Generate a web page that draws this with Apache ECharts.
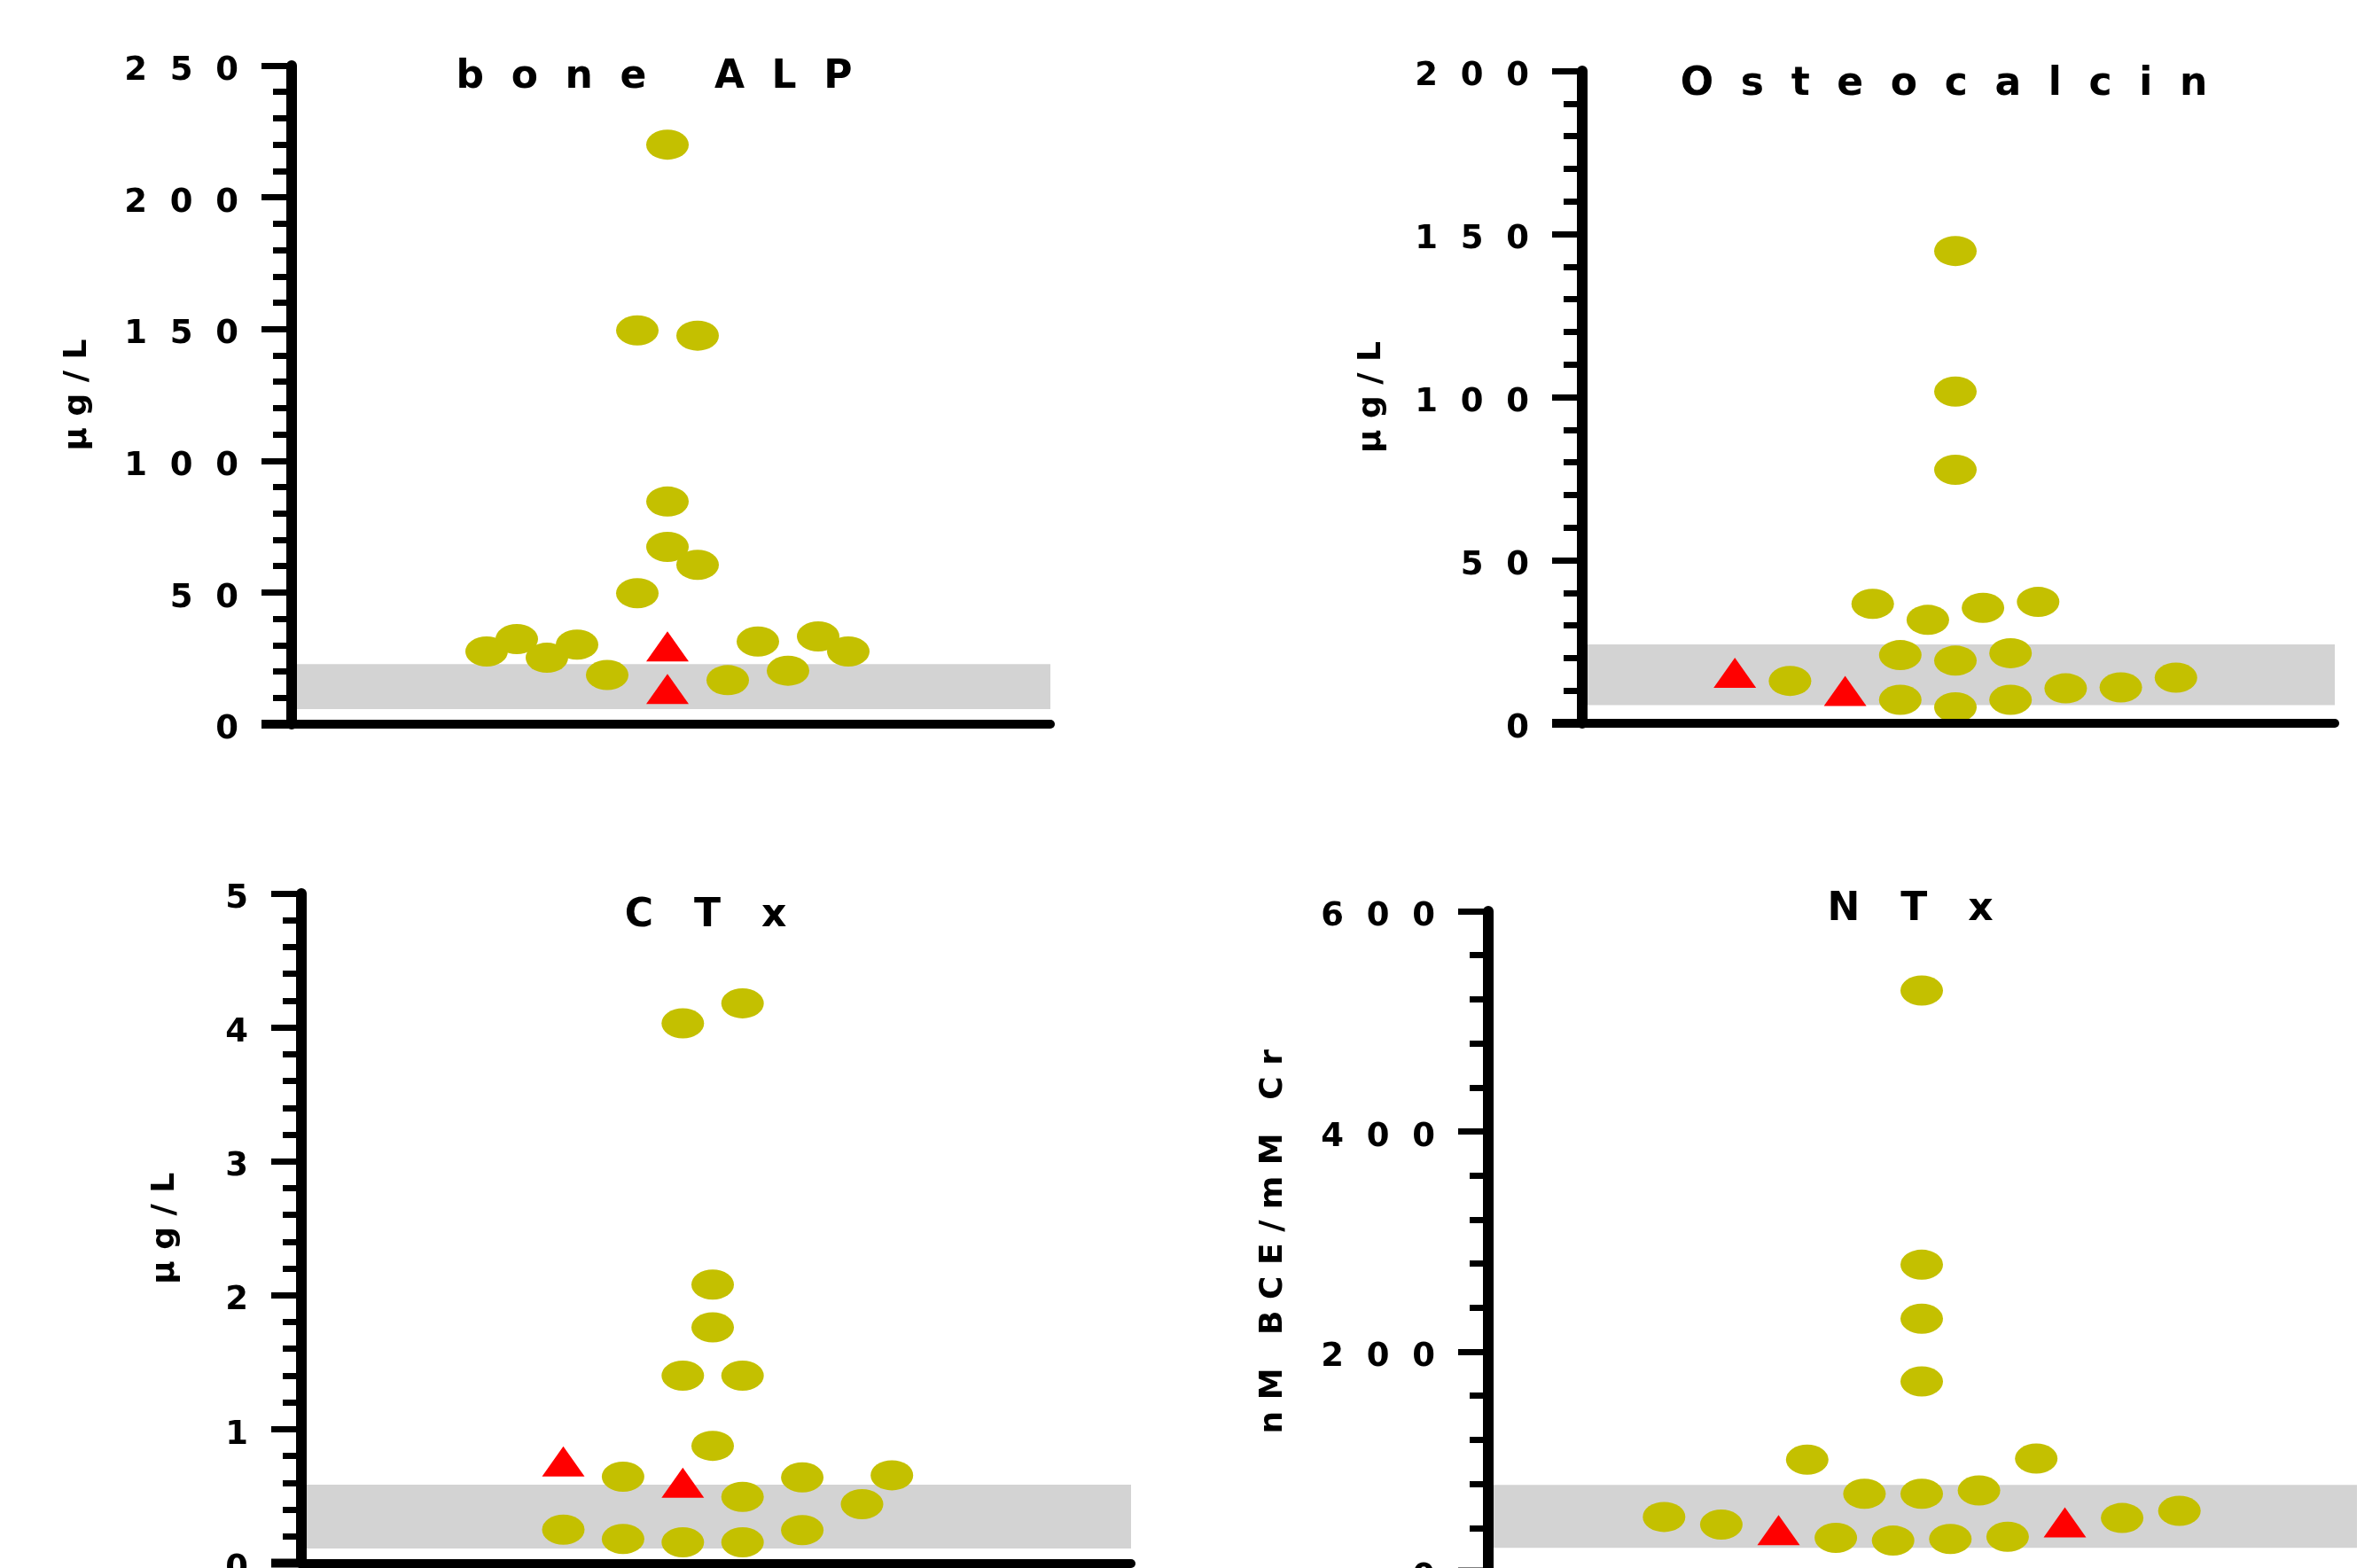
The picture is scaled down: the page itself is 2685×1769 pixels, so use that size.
<!DOCTYPE html>
<html>
<head>
<meta charset="utf-8">
<script src="https://cdn.jsdelivr.net/npm/echarts@6/dist/echarts.min.js"></script>
<style>
  html, body { margin: 0; padding: 0; background: #fff; }
  #main { width: 2685px; height: 1769px; }
</style>
</head>
<body>
<div id="main"></div>
<script>
// panel texts and y scales
const titles = ['bone ALP', 'Osteocalcin', 'CTx', 'NTx'];
const yNames = ['µg/L', 'µg/L', 'µg/L', 'nM BCE/mM Cr'];
const yMax = [250, 200, 5, 600];
const yStep = [50, 50, 1, 200];

// grey reference range
const refLow = [5.7, 5.6, 0.11, 22];
const refHigh = [22.8, 24.2, 0.585, 79];

// dot columns (swarm offset) and values, circles and triangles
const alpDotCol = [0, -1, 1, 0, 0, 1, -1, -6, -5, -4, -3, -2, 2, 3, 4, 5, 6];
const alpDotVal = [220, 149.5, 147.5, 84.5, 67.3, 60.5, 49.7, 27.6, 32.3, 25.2, 30.2, 18.7, 16.7, 31.4, 20.3, 33.3, 27.6];
const alpTriCol = [0, 0];
const alpTriVal = [29.5, 13.4];

const ocDotCol = [0, 0, 0, -3, -1, 1, 3, -2, 0, 2, -6, -2, 0, 2, 4, 6, 8];
const ocDotVal = [144.8, 101.7, 77.7, 36.6, 31.7, 35.4, 37.2, 20.9, 19.2, 21.5, 13, 7.2, 4.9, 7.2, 10.7, 11, 14];
const ocTriCol = [-8, -4];
const ocTriVal = [15.5, 9.9];

const ctxDotCol = [-1, 1, 0, 0, -1, 1, 0, -3, 1, 3, 5, 6, -5, -3, -1, 1, 3];
const ctxDotVal = [4.03, 4.18, 2.08, 1.76, 1.4, 1.4, 0.876, 0.645, 0.495, 0.64, 0.44, 0.656, 0.25, 0.18, 0.155, 0.155, 0.247];
const ctxTriCol = [-5, -1];
const ctxTriVal = [0.76, 0.6];

const ntxDotCol = [0, 0, 0, 0, -4, 4, -2, 0, 2, -9, -7, -3, -1, 1, 3, 7, 9];
const ntxDotVal = [528, 279, 230, 173, 102, 103, 71, 71, 74, 50, 43, 31, 28.5, 30, 32, 49, 55.5];
const ntxTriCol = [-5, 5];
const ntxTriVal = [38, 45];

const dotCols = [alpDotCol, ocDotCol, ctxDotCol, ntxDotCol];
const dotVals = [alpDotVal, ocDotVal, ctxDotVal, ntxDotVal];
const triCols = [alpTriCol, ocTriCol, ctxTriCol, ntxTriCol];
const triVals = [alpTriVal, ocTriVal, ctxTriVal, ntxTriVal];

// layout in px: plot box, swarm center, column width, title spot
const layout = [
  { left: 329, right: 1185, top: 74, bottom: 817, center: 753, step: 34, nameGap: 223, tx: 738, ty: 88, tgap: '  ' },
  { left: 1785, right: 2634, top: 80, bottom: 816, center: 2206, step: 31.1, nameGap: 219, tx: 2193, ty: 96, tgap: '  ' },
  { left: 340, right: 1276, top: 1008, bottom: 1763.5, center: 804, step: 33.7, nameGap: 135, tx: 796, ty: 1034, tgap: '   ' },
  { left: 1679, right: 2659, top: 1028, bottom: 1773.5, center: 2168, step: 32.3, nameGap: 224, tx: 2155, ty: 1027, tgap: '   ' }
];

const FONT = 'DejaVu Sans';
const spaced = (s, gap) => Array.from(String(s)).join(gap);

const grid = [], xAxis = [], yAxis = [], series = [], title = [], graphic = [];

layout.forEach((L, i) => {
  grid.push({
    left: L.left, top: L.top, width: L.right - L.left, height: L.bottom - L.top,
    outerBoundsMode: 'none', containLabel: false
  });

  xAxis.push({
    gridIndex: i, type: 'value',
    min: (L.left - L.center) / L.step,
    max: (L.right - L.center) / L.step,
    axisLine: { onZero: false, lineStyle: { color: '#000', width: 10 } },
    axisTick: { show: false }, axisLabel: { show: false }, splitLine: { show: false },
    z: 5
  });

  yAxis.push({
    gridIndex: i, type: 'value', min: 0, max: yMax[i], interval: yStep[i],
    name: spaced(yNames[i], ' '),
    nameLocation: 'middle', nameGap: L.nameGap,
    nameTextStyle: { fontFamily: FONT, fontWeight: 'bold', fontSize: 36, color: '#000' },
    axisLine: { show: true, onZero: false, lineStyle: { color: '#000', width: 12 } },
    axisTick: { show: true, length: 34, lineStyle: { color: '#000', width: 7 } },
    minorTick: { show: true, splitNumber: 5, length: 21, lineStyle: { color: '#000', width: 7 } },
    axisLabel: {
      margin: 60, fontFamily: FONT, fontWeight: 'bold', fontSize: 37, color: '#000',
      // small line box hung from the tick: digits sit a little below it
      verticalAlign: 'top', lineHeight: 13,
      formatter: v => spaced(v, '  ')
    },
    splitLine: { show: false }, minorSplitLine: { show: false },
    z: 5
  });

  title.push({
    text: spaced(titles[i], L.tgap),
    left: L.tx, top: L.ty, textAlign: 'center', textVerticalAlign: 'middle', padding: 0,
    textStyle: { fontFamily: FONT, fontWeight: 'bold', fontSize: 44, color: '#000' }
  });

  // x axis line runs on under the y ticks
  graphic.push({
    type: 'rect', z: 10,
    shape: { x: L.left - 34, y: L.bottom - 5, width: 34, height: 10 },
    style: { fill: '#000' }
  });

  series.push({
    type: 'scatter', xAxisIndex: i, yAxisIndex: i, data: [], z: 1, silent: true,
    markArea: {
      silent: true,
      itemStyle: { color: '#d3d3d3' },
      data: [[{ yAxis: refLow[i] }, { yAxis: refHigh[i] }]]
    }
  });
  series.push({
    type: 'scatter', xAxisIndex: i, yAxisIndex: i, z: 2,
    symbol: 'circle', symbolSize: [48, 34],
    itemStyle: { color: '#c4c000', opacity: 1 },
    data: dotCols[i].map((c, k) => [c, dotVals[i][k]])
  });
  series.push({
    type: 'scatter', xAxisIndex: i, yAxisIndex: i, z: 3,
    symbol: 'triangle', symbolSize: [48, 34],
    itemStyle: { color: '#ff0000', opacity: 1 },
    data: triCols[i].map((c, k) => [c, triVals[i][k]])
  });
});

const chart = echarts.init(document.getElementById('main'), null, { renderer: 'canvas' });
chart.setOption({
  animation: false,
  backgroundColor: '#fff',
  title, grid, xAxis, yAxis, series, graphic
});
</script>
</body>
</html>
